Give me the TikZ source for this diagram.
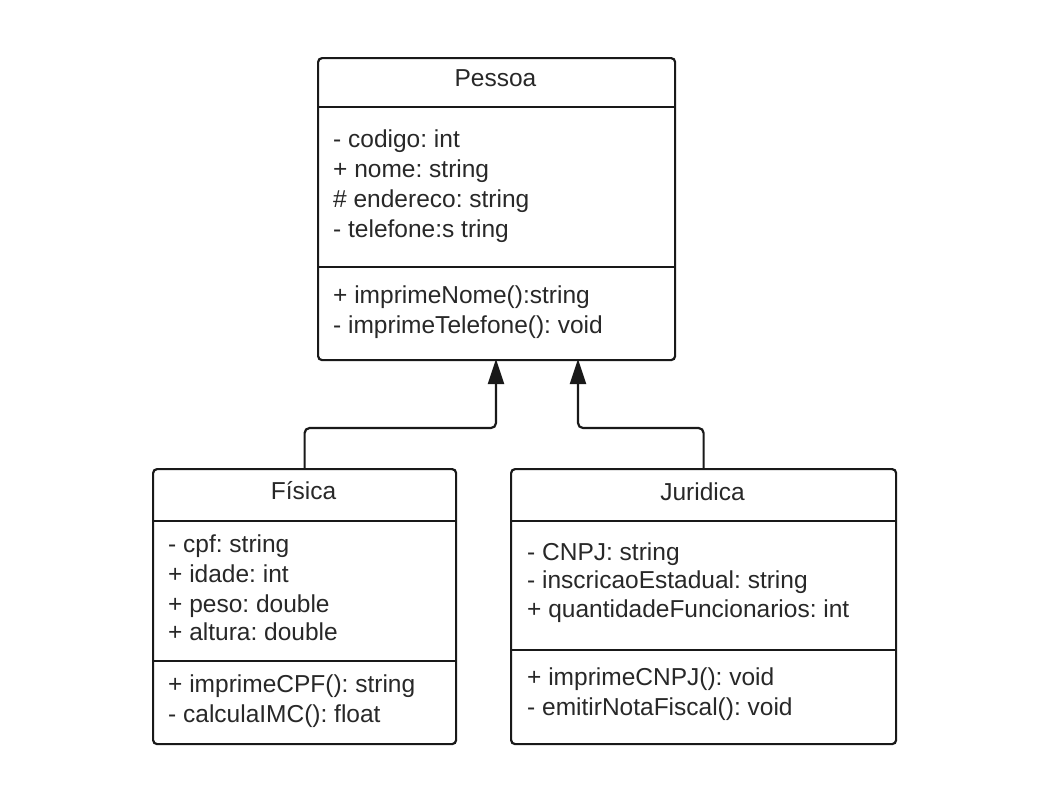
\documentclass[tikz,border=0pt]{standalone}
\usepackage{fontspec}
\setmainfont{Liberation Sans}
\usetikzlibrary{arrows.meta}
\definecolor{linec}{RGB}{25,25,25}
\definecolor{txtc}{RGB}{40,40,40}
\frenchspacing
\tikzset{
  umlbox/.style={draw=linec, line width=2.2pt, rounded corners=4pt, fill=white, inner sep=0pt, anchor=north west},
  divline/.style={draw=linec, line width=2.2pt},
  txt/.style={anchor=base west, inner sep=0pt, text=txtc, font=\fontsize{24.5}{30}\selectfont},
  ttl/.style={anchor=base, inner sep=0pt, text=txtc, font=\fontsize{24.5}{30}\selectfont},
  gen/.style={draw=linec, line width=2.2pt, rounded corners=5pt, -{Triangle[length=25pt,width=16pt]}}
}
\begin{document}
\begin{tikzpicture}[x=1pt,y=-1pt]
\useasboundingbox (0,0) rectangle (1039,785);

% Pessoa
\node[umlbox, minimum width=357pt, minimum height=302pt] (pessoa) at (317,57) {};
\draw[divline] (317,107) -- (674,107);
\draw[divline] (317,267) -- (674,267);
\node[ttl] (pt) at (495.5,86) {Pessoa};
\node[txt] (pa1) at (333,147.7) {- codigo: int};
\node[txt] (pa2) at (333,177.7) {+ nome: string};
\node[txt] (pa3) at (333,207.7) {\# endereco: string};
\node[txt] (pa4) at (333,237.7) {- telefone:s tring};
\node[txt] (pm1) at (333,303) {+ imprimeNome():string};
\node[txt] (pm2) at (333,333) {- imprimeTelefone(): void};

% Fisica
\node[umlbox, minimum width=303pt, minimum height=275pt] (fisica) at (152,468) {};
\draw[divline] (152,521) -- (455,521);
\draw[divline] (152,661) -- (455,661);
\node[ttl] (ft) at (303.5,499) {Física};
\node[txt] (fa1) at (168,552) {- cpf: string};
\node[txt] (fa2) at (168,582) {+ idade: int};
\node[txt] (fa3) at (168,612) {+ peso: double};
\node[txt] (fa4) at (168,640) {+ altura: double};
\node[txt] (fm1) at (168,692) {+ imprimeCPF(): string};
\node[txt] (fm2) at (168,722) {- calculaIMC(): float};

% Juridica
\node[umlbox, minimum width=385pt, minimum height=275pt] (juridica) at (510,468) {};
\draw[divline] (510,521) -- (895,521);
\draw[divline] (510,650) -- (895,650);
\node[ttl] (jt) at (702.5,500) {Juridica};
\node[txt] (ja1) at (527,560.7) {- CNPJ: string};
\node[txt] (ja2) at (527,588) {- inscricaoEstadual: string};
\node[txt] (ja3) at (527,617) {+ quantidadeFuncionarios: int};
\node[txt] (jm1) at (527,685) {+ imprimeCNPJ(): void};
\node[txt] (jm2) at (527,715) {- emitirNotaFiscal(): void};

% Generalization connectors
\coordinate (lvl) at (0,428);
\coordinate (pl) at (496,359);
\coordinate (pr) at (578,359);
\draw[gen] (fisica.north) -- (fisica.north |- lvl) -- (pl |- lvl) -- (pl);
\draw[gen] (juridica.north) -- (juridica.north |- lvl) -- (pr |- lvl) -- (pr);
\end{tikzpicture}
\end{document}
